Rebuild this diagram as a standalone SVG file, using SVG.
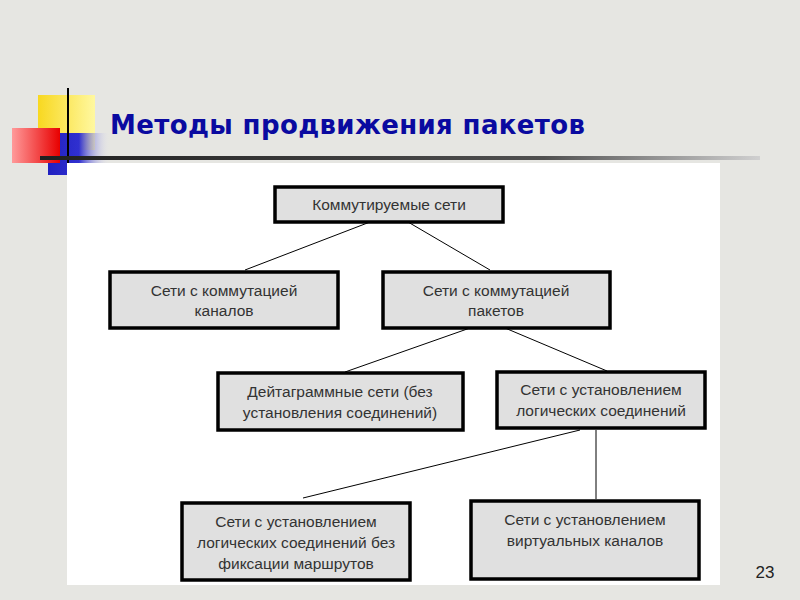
<svg xmlns="http://www.w3.org/2000/svg" width="800" height="600" viewBox="0 0 800 600">
<defs>
<linearGradient id="red" x1="0" x2="1"><stop offset="0" stop-color="#ff9a9a"/><stop offset="1" stop-color="#e80000"/></linearGradient>
<linearGradient id="blue" x1="0" x2="1"><stop offset="0" stop-color="#2020c0"/><stop offset="0.5" stop-color="#3030d0"/><stop offset="1" stop-color="#e8e8f0" stop-opacity="0"/></linearGradient>
<linearGradient id="yel" x1="0" x2="1"><stop offset="0" stop-color="#f8d820"/><stop offset="1" stop-color="#fff8a0"/></linearGradient>
<linearGradient id="hl" x1="0" x2="1"><stop offset="0" stop-color="#202020"/><stop offset="0.7" stop-color="#505050"/><stop offset="1" stop-color="#d0d0d0"/></linearGradient>
</defs>
<style>
.n rect{fill:#e0e0e0;stroke:#000;stroke-width:3.5}
.n text{font-family:"Liberation Sans",Arial,sans-serif;font-size:15.5px;fill:#333;text-anchor:middle}
#connectors line{stroke:#000;stroke-width:1}
</style>
<rect width="800" height="600" fill="#e6e6e2"/>
<rect x="38" y="95" width="57" height="55" fill="url(#yel)"/>
<rect x="48" y="133" width="62" height="42" fill="url(#blue)"/>
<rect x="12" y="128" width="48" height="35" fill="url(#red)"/>
<line x1="68" y1="88" x2="68" y2="165" stroke="#000" stroke-width="2"/>
<rect x="40" y="156" width="720" height="4" fill="url(#hl)"/>
<text x="110" y="134" font-family="'DejaVu Sans',Verdana,sans-serif" font-weight="bold" font-size="26" textLength="475" fill="#0a0aa0">Методы продвижения пакетов</text>
<rect x="67" y="163" width="653" height="422" fill="#fff"/>
<g id="connectors">
<line x1="370" y1="222" x2="245" y2="270"/><line x1="408" y1="222" x2="490" y2="270"/>
<line x1="470" y1="328" x2="345" y2="372"/><line x1="505" y1="328" x2="607" y2="371"/>
<line x1="580" y1="430" x2="303" y2="498"/><line x1="596" y1="430" x2="596" y2="499"/>
</g>
<g id="n1" class="n"><rect x="275" y="187" width="228" height="35"/><text x="389" y="210">Коммутируемые сети</text></g>
<g id="n2" class="n"><rect x="110" y="272" width="228" height="56"/><text x="224" y="296">Сети с коммутацией</text><text x="224" y="316">каналов</text></g>
<g id="n3" class="n"><rect x="383" y="272" width="227" height="56"/><text x="496" y="296">Сети с коммутацией</text><text x="496" y="316">пакетов</text></g>
<g id="n4" class="n"><rect x="218" y="373" width="245" height="57"/><text x="340" y="397">Дейтаграммные сети (без</text><text x="340" y="418">установления соединений)</text></g>
<g id="n5" class="n"><rect x="497" y="372" width="208" height="56"/><text x="601" y="395">Сети с установлением</text><text x="601" y="416">логических соединений</text></g>
<g id="n6" class="n"><rect x="182" y="503" width="228" height="77"/><text x="296" y="527">Сети с установлением</text><text x="296" y="548">логических соединений без</text><text x="296" y="569">фиксации маршрутов</text></g>
<g id="n7" class="n"><rect x="471" y="501" width="228" height="78"/><text x="585" y="525">Сети с установлением</text><text x="585" y="546">виртуальных каналов</text></g>
<text x="765" y="578" font-family="'Liberation Sans',Arial,sans-serif" font-size="17" fill="#222" text-anchor="middle">23</text>
</svg>
